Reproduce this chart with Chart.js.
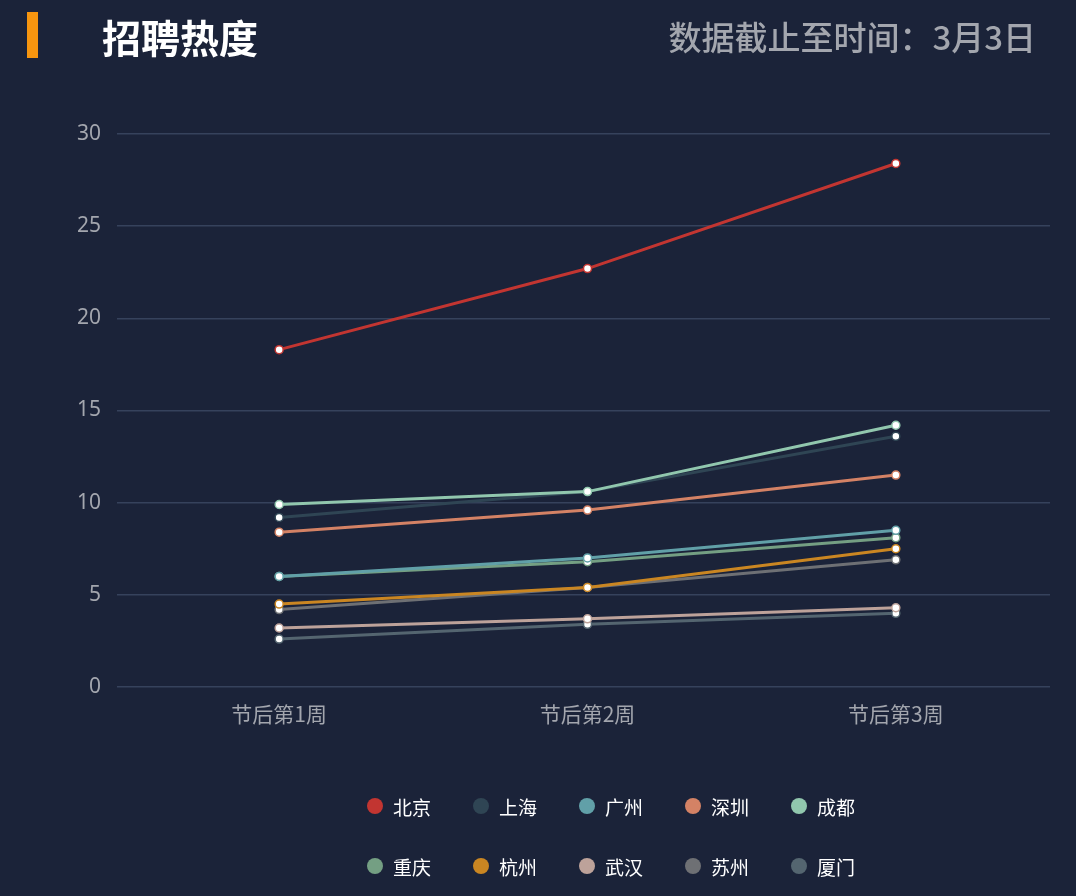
<!DOCTYPE html>
<html><head><meta charset="utf-8">
<script src="https://cdn.jsdelivr.net/npm/chart.js@4/dist/chart.umd.min.js"></script>
<style>
html,body{margin:0;padding:0;background:#1b2339;width:1076px;height:896px;overflow:hidden;font-family:"Noto Sans CJK SC","Noto Sans",sans-serif}
#wrap{position:absolute;left:0;top:0;width:1076px;height:896px}
#bar{position:absolute;left:27px;top:12px;width:11px;height:46px;background:#f7950f}
#title{position:absolute;left:102px;top:10px;font-size:39px;font-weight:bold;color:#fff;line-height:52px}
#date{position:absolute;right:40px;top:10px;font-size:33px;font-weight:500;color:#a3a6ae;line-height:52px}
#legend{position:absolute;left:94px;top:776px;width:1076px}
.row{display:flex;justify-content:center;height:60px;align-items:center}
.item{display:flex;align-items:center;width:106px;color:#fff;font-size:19px}
.dot{width:16px;height:16px;border-radius:50%;margin-right:10px}
</style></head><body>
<div id="wrap"><canvas id="c" width="1076" height="896"></canvas></div>
<div id="bar"></div><div id="title">招聘热度</div><div id="date">数据截止至时间：3月3日</div>
<div id="legend"></div>
<script>
const categories=["节后第1周","节后第2周","节后第3周"];
const cities=["北京","上海","广州","深圳","成都","重庆","杭州","武汉","苏州","厦门"];
const colors=["#c23531","#2f4554","#61a0a8","#d48265","#91c7ae","#749f83","#ca8622","#bda29a","#6e7074","#546570"];
const vBeijing=[18.3,22.7,28.4];
const vShanghai=[9.2,10.6,13.6];
const vGuangzhou=[6.0,7.0,8.5];
const vShenzhen=[8.4,9.6,11.5];
const vChengdu=[9.9,10.6,14.2];
const vChongqing=[6.0,6.8,8.1];
const vHangzhou=[4.5,5.4,7.5];
const vWuhan=[3.2,3.7,4.3];
const vSuzhou=[4.2,5.4,6.9];
const vXiamen=[2.6,3.4,4.0];
const yTicks=[0,5,10,15,20,25,30];
const values=[vBeijing,vShanghai,vGuangzhou,vShenzhen,vChengdu,vChongqing,vHangzhou,vWuhan,vSuzhou,vXiamen];
const order=[1,8,9,7,6,5,2,3,4,0];
const datasets=cities.map((n,i)=>({label:n,data:values[i],borderColor:colors[i],backgroundColor:"#fff",pointBackgroundColor:"#fff",pointBorderColor:colors[i],borderWidth:3,pointRadius:4,pointBorderWidth:1.5,order:order.indexOf(i)*-1+10,tension:0}));
new Chart(document.getElementById("c"),{type:"line",data:{labels:categories,datasets},
options:{responsive:false,animation:false,
layout:{padding:{left:0,right:26,top:134,bottom:0}},
plugins:{legend:{display:false},tooltip:{enabled:false}},
scales:{
x:{offset:true,grid:{display:false},border:{display:false},ticks:{color:"#a3a6ae",font:{size:21,family:"Noto Sans CJK SC"},padding:6},afterFit:s=>{s.height=209}},
y:{min:0,max:30,afterBuildTicks:s=>{s.ticks=yTicks.map(v=>({value:v}))},grid:{color:"#36425c",lineWidth:1.5},border:{display:false},ticks:{color:"#a3a6ae",font:{size:21,family:"Noto Sans"},padding:16},afterFit:s=>{s.width=125}}
}}});
const lg=document.getElementById("legend");
for(let r=0;r<2;r++){const row=document.createElement("div");row.className="row";
for(let i=r*5;i<r*5+5;i++){row.innerHTML+=`<div class="item"><span class="dot" style="background:${colors[i]}"></span>${cities[i]}</div>`;}
lg.appendChild(row);}
</script></body></html>
